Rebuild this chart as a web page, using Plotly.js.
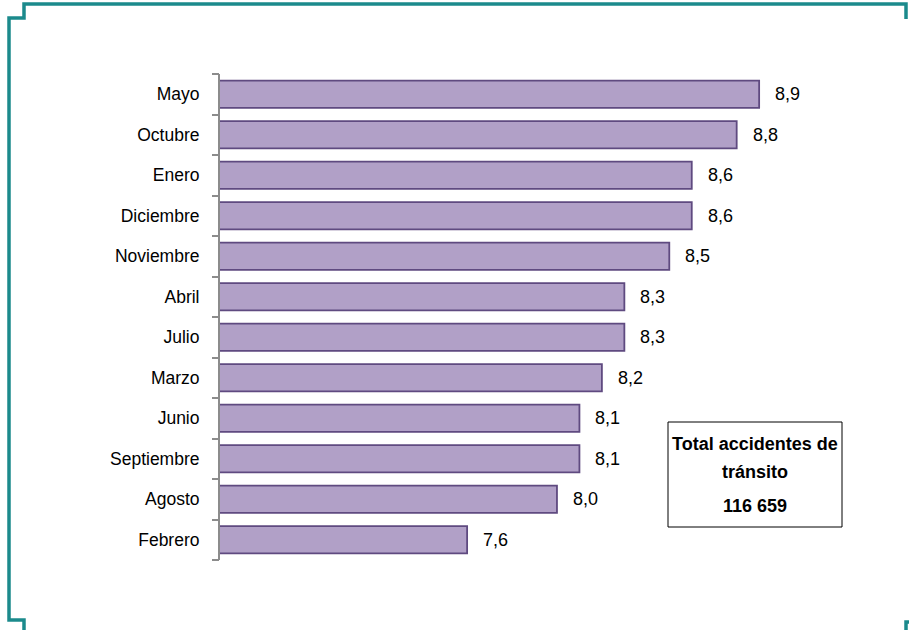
<!DOCTYPE html>
<html>
<head>
<meta charset="utf-8">
<script src="https://cdn.plot.ly/plotly-3.0.1.min.js"></script>
<style>
html,body{margin:0;padding:0;background:#fff;}
#chart{width:909px;height:630px;}
</style>
</head>
<body>
<div id="chart"></div>
<script>
const months = ["Mayo","Octubre","Enero","Diciembre","Noviembre","Abril","Julio","Marzo","Junio","Septiembre","Agosto","Febrero"];
const percentages = [8.9, 8.8, 8.6, 8.6, 8.5, 8.3, 8.3, 8.2, 8.1, 8.1, 8.0, 7.6];
const boxLines = ["Total accidentes de", "tránsito", "116 659"];

const FONT = "Liberation Sans, Arial, sans-serif";
const teal = "#1b8a8c";
const L = 220, R = 60, T = 74, B = 70, W = 909, H = 630;
function px2paper(path){
  return path.replace(/([ML]) (-?[\d.]+) (-?[\d.]+)/g, (m, c, x, y) => {
    const px = (parseFloat(x) - L) / (W - L - R);
    const py = 1 - (parseFloat(y) - T) / (H - T - B);
    return c + " " + px.toFixed(5) + " " + py.toFixed(5);
  });
}
const pxX = x => (x - L) / (W - L - R);
const pxY = y => 1 - (y - T) / (H - T - B);

const shapes = [
  {type:"path", path:"M 9 200 L 9 18 L 24 18 L 24 4 L 906 4 L 906 19"},
  {type:"path", path:"M 9 200 L 9 620 L 24 620 L 24 632"},
  {type:"path", path:"M 906 632 L 906 622 L 909 622"}
].map(s => ({type:"path", path: px2paper(s.path), xref:"paper", yref:"paper", line:{color:teal, width:3.5}}));

shapes.push({type:"rect", xref:"paper", yref:"paper",
  x0: pxX(668), x1: pxX(842), y0: pxY(422), y1: pxY(527),
  line:{color:"#000", width:1}, fillcolor:"#fff"});

const trace = {
  type: "bar",
  orientation: "h",
  x: percentages,
  y: months,
  width: 0.67,
  marker: {color: "#b1a0c7", line: {color: "#5f4a80", width: 1.8}},
  hoverinfo: "none"
};
// empty helper trace so the boundary-tick axis is drawn
const tickHelper = {type: "scatter", mode: "markers", x: [null], y: [null], xaxis: "x", yaxis: "y2", hoverinfo: "none", showlegend: false};

const labelAnnotations = percentages.map((v, i) => ({
  x: v, y: months[i], xref: "x", yref: "y",
  text: v.toFixed(1).replace(".", ","),
  showarrow: false, xanchor: "left", yanchor: "middle", xshift: 14,
  font: {family: FONT, size: 18, color: "#000"}
}));

const boxY = [444, 472, 506];
const boxAnnotations = boxLines.map((t, i) => ({
  xref: "paper", yref: "paper", x: pxX(755), y: pxY(boxY[i]),
  xanchor: "center", yanchor: "middle", showarrow: false,
  text: "<b>" + t + "</b>",
  font: {family: FONT, size: 18, color: "#000"}
}));

const boundaries = months.map((m, i) => i - 0.5).concat([months.length - 0.5]);

const layout = {
  width: W, height: H,
  margin: {l: L, r: R, t: T, b: B},
  paper_bgcolor: "#fff",
  plot_bgcolor: "#fff",
  showlegend: false,
  font: {family: FONT, size: 17.5, color: "#000"},
  xaxis: {range: [6.5, 9.3], visible: false, fixedrange: true},
  yaxis: {
    type: "category",
    autorange: "reversed",
    showline: true, linecolor: "#8c8c8c", linewidth: 2,
    ticks: "",
    ticklabelstandoff: 15,
    showgrid: false, zeroline: false,
    tickfont: {family: FONT, size: 17.5, color: "#000"}
  },
  yaxis2: {
    overlaying: "y", side: "left", anchor: "x",
    range: [months.length - 0.5, -0.5],
    tickmode: "array", tickvals: boundaries,
    ticks: "outside", ticklen: 7, tickcolor: "#8c8c8c", tickwidth: 2,
    showticklabels: false, showline: false, showgrid: false, zeroline: false
  },
  shapes: shapes,
  annotations: labelAnnotations.concat(boxAnnotations)
};

Plotly.newPlot("chart", [trace, tickHelper], layout, {displayModeBar: false, staticPlot: true});
</script>
</body>
</html>
